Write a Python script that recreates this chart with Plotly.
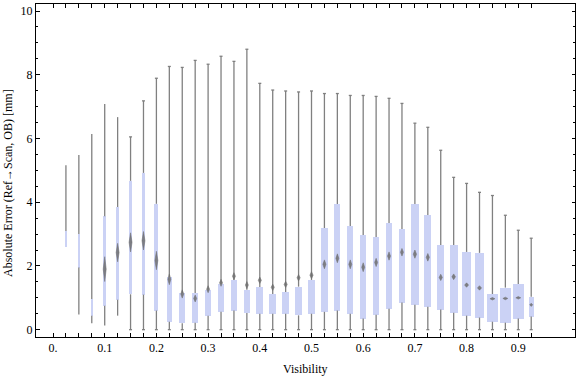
import plotly.graph_objects as go

# ---------------- data ----------------
visibility = [0.025, 0.05, 0.075, 0.1, 0.125, 0.15, 0.175, 0.2, 0.225, 0.25,
              0.275, 0.3, 0.325, 0.35, 0.375, 0.4, 0.425, 0.45, 0.475, 0.5,
              0.525, 0.55, 0.575, 0.6, 0.625, 0.65, 0.675, 0.7, 0.725, 0.75,
              0.775, 0.8, 0.825, 0.85, 0.875, 0.9, 0.925]

whisker_low = [2.59, 0.48, 0.20, 0.13, 0.44, 0.0, 0.0, 0.0, 0.0, 0.0,
               0.0, 0.0, 0.0, 0.0, 0.0, 0.0, 0.0, 0.0, 0.0, 0.0,
               0.0, 0.0, 0.0, 0.0, 0.0, 0.0, 0.0, 0.0, 0.0, 0.0,
               0.0, 0.0, 0.0, 0.0, 0.0, 0.0, 0.0]

q1 = [2.59, 1.95, 0.44, 0.75, 0.94, 1.11, 1.10, 0.60, 0.25, 0.20,
      0.22, 0.44, 0.56, 0.60, 0.52, 0.50, 0.50, 0.50, 0.45, 0.50,
      0.56, 0.60, 0.50, 0.35, 0.47, 0.66, 0.85, 0.78, 0.72, 0.63,
      0.53, 0.44, 0.38, 0.25, 0.22, 0.35, 0.41]

medians = [2.80, 2.50, 0.70, 1.90, 2.42, 2.74, 2.79, 2.17, 1.58, 1.12,
           0.98, 1.27, 1.47, 1.68, 1.40, 1.55, 1.33, 1.42, 1.63, 1.71,
           2.05, 2.24, 2.05, 1.96, 2.11, 2.31, 2.43, 2.37, 2.27, 1.64,
           1.66, 1.40, 1.31, 0.97, 0.98, 1.00, 0.78]

q3 = [3.10, 3.00, 0.96, 3.56, 3.85, 4.67, 4.92, 3.95, 1.66, 1.15,
      1.15, 1.25, 1.44, 1.56, 1.25, 1.34, 1.12, 1.18, 1.35, 1.56,
      3.19, 3.94, 3.25, 2.97, 2.91, 3.35, 3.16, 3.94, 3.60, 2.66,
      2.66, 2.44, 2.41, 1.12, 1.32, 1.43, 1.03]

whisker_high = [5.16, 5.48, 6.14, 7.08, 6.67, 6.05, 7.18, 7.89, 8.26, 8.23,
                8.45, 8.33, 8.58, 8.42, 8.80, 7.73, 7.52, 7.49, 7.46, 7.49,
                7.41, 7.41, 7.35, 7.35, 7.32, 7.26, 7.10, 6.48, 6.35, 5.63,
                4.78, 4.59, 4.31, 4.21, 3.59, 3.12, 2.87]

# relative box width (sample weight), 1 = widest box
rel_width = [0.07, 0.07, 0.10, 0.27, 0.30, 0.34, 0.36, 0.36, 0.48, 0.55,
             0.55, 0.55, 0.57, 0.57, 0.52, 0.64, 0.64, 0.64, 0.64, 0.66,
             0.64, 0.57, 0.57, 0.57, 0.57, 0.57, 0.55, 0.66, 0.64, 0.66,
             0.73, 0.79, 0.82, 1.00, 1.00, 1.00, 0.45]

# half-height of the median notch [mm] (0 = not drawn)
notch = [0.0, 0.0, 0.0, 0.39, 0.29, 0.30, 0.29, 0.29, 0.17, 0.13,
         0.11, 0.11, 0.11, 0.11, 0.11, 0.10, 0.10, 0.10, 0.10, 0.11,
         0.14, 0.14, 0.14, 0.14, 0.13, 0.13, 0.12, 0.13, 0.12, 0.10,
         0.09, 0.07, 0.07, 0.04, 0.04, 0.04, 0.05]

x_tick_vals = [0.0] + visibility
x_tick_text = ["0.", "", "", "", "0.1", "", "", "", "0.2", "", "", "", "0.3",
               "", "", "", "0.4", "", "", "", "0.5", "", "", "", "0.6", "",
               "", "", "0.7", "", "", "", "0.8", "", "", "", "0.9", ""]
y_tick_vals = [0, 2, 4, 6, 8, 10]

# ---------------- style ----------------
FONT = "Liberation Serif"
BOX_COLOR = "#CBD2F5"
WHISKER_COLOR = "#808080"
NOTCH_COLOR = "rgba(110,110,110,0.85)"
PX = 1.0 / 517.0            # one pixel in x data units
MAX_W = 11 * PX             # widest box
CAP_HALF = 1.5 * PX

box_w = [r * MAX_W for r in rel_width]

# whisker segments (outside the box) and caps
wx, wy = [], []
for x, lo, a, b, hi, w in zip(visibility, whisker_low, q1, q3, whisker_high, box_w):
    wx += [x, x, None, x, x, None]
    wy += [lo, a, None, b, hi, None]
    if w >= 3.5 * PX:
        wx += [x - CAP_HALF, x + CAP_HALF, None, x - CAP_HALF, x + CAP_HALF, None]
        wy += [lo, lo, None, hi, hi, None]

# median notch diamonds
dx, dy = [], []
for x, m, n, w in zip(visibility, medians, notch, box_w):
    if n <= 0:
        continue
    half = min(max(0.45 * w, 3 * PX), 5 * PX) / 2
    dx += [x - half, x, x + half, x, x - half, None]
    dy += [m, m + n, m, m - n, m, None]

fig = go.Figure()
fig.add_trace(go.Scatter(x=wx, y=wy, mode="lines",
                         line=dict(color=WHISKER_COLOR, width=1.3),
                         hoverinfo="skip", showlegend=False))
fig.add_trace(go.Bar(x=visibility, y=[b - a for a, b in zip(q1, q3)], base=q1,
                     width=box_w, marker=dict(color=BOX_COLOR, line=dict(width=0)),
                     showlegend=False))
fig.add_trace(go.Scatter(x=dx, y=dy, mode="lines", fill="toself",
                         fillcolor=NOTCH_COLOR,
                         line=dict(color=NOTCH_COLOR, width=0.6),
                         hoverinfo="skip", showlegend=False))

axis_common = dict(showline=True, linecolor="black", linewidth=1, mirror="ticks",
                   showgrid=False, zeroline=False, ticks="inside",
                   tickcolor="black", tickfont=dict(family=FONT, size=12, color="black"))

fig.update_xaxes(range=[-0.0329, 1.0097], tickmode="array", tickvals=x_tick_vals,
                 ticktext=x_tick_text, ticklen=4, **axis_common)
fig.update_yaxes(range=[-0.23, 10.22], tickmode="array", tickvals=y_tick_vals,
                 ticklen=3.5, minor=dict(dtick=0.5, ticks="inside", ticklen=2,
                                         tickcolor="black"),
                 **axis_common)

fig.update_layout(
    width=576, height=377,
    margin=dict(l=36, r=1, t=4, b=40),
    plot_bgcolor="white", paper_bgcolor="white",
    barmode="overlay", bargap=0,
    font=dict(family=FONT, size=12, color="black"),
    annotations=[
        dict(text="Visibility", xref="paper", yref="paper", x=0.5, y=0,
             xanchor="center", yanchor="middle", yshift=-32, showarrow=False,
             font=dict(family=FONT, size=12)),
        dict(text="Absolute Error (Ref→Scan, OB) [mm]", xref="paper", yref="paper",
             x=0, y=0.461, xanchor="center", yanchor="middle", xshift=-27.5,
             textangle=-90, showarrow=False, font=dict(family=FONT, size=12)),
    ],
)

fig.write_html("out.html", config={"displayModeBar": False},
               post_script="document.body.style.margin='0';"
                           "document.body.style.overflow='hidden';")
